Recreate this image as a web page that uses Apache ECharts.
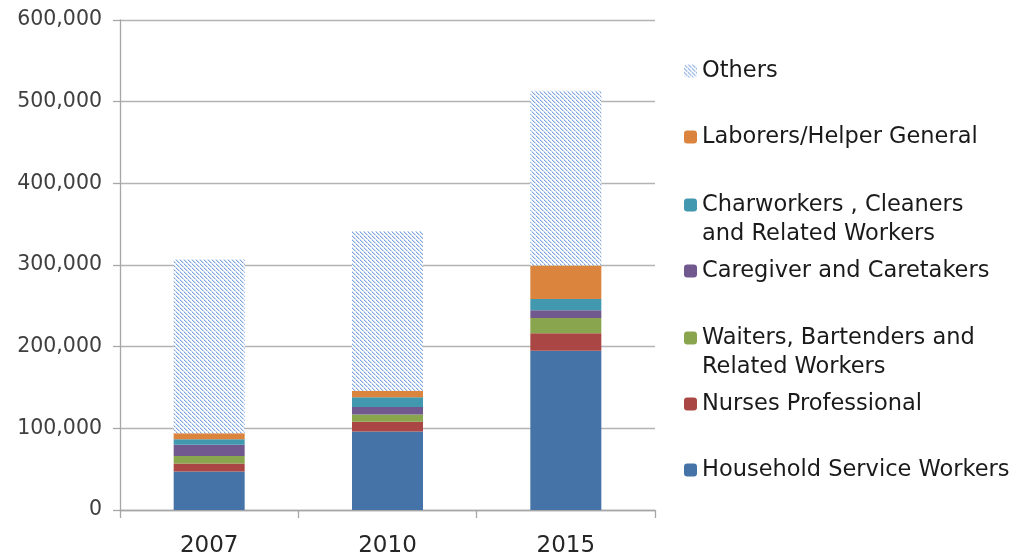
<!DOCTYPE html>
<html>
<head>
<meta charset="utf-8">
<script src="https://cdn.jsdelivr.net/npm/echarts@6/dist/echarts.min.js"></script>
<style>html,body{margin:0;padding:0;background:#fff;}#c{width:1017px;height:558px;}</style>
</head>
<body>
<div id="c"></div>
<script>
const categories = ['2007', '2010', '2015'];
const household = [47000, 96000, 195000];
const nurses = [10000, 12000, 21500];
const waiters = [9000, 9000, 18500];
const caregiver = [14000, 9000, 9500];
const charworkers = [6500, 12000, 14000];
const laborers = [7500, 8000, 41000];
const others = [213000, 195500, 214000];
const yTicks = [0, 100000, 200000, 300000, 400000, 500000, 600000];

const names = {
  hsw: 'Household Service Workers',
  nur: 'Nurses Professional',
  wai: 'Waiters, Bartenders and\nRelated Workers',
  car: 'Caregiver and Caretakers',
  cha: 'Charworkers , Cleaners\nand Related Workers',
  lab: 'Laborers/Helper General',
  oth: 'Others'
};

// dotted diagonal hatch for "Others"
const pc = document.createElement('canvas');
pc.width = 8; pc.height = 8;
const g = pc.getContext('2d');
g.fillStyle = '#ffffff';
g.fillRect(0, 0, 8, 8);
for (let i = 0; i < 8; i++) {
  for (let k = 0; k < 8; k += 4) {
    const x = (i + k) % 8;
    g.fillStyle = (i % 4 === 3) ? '#c4d6ef' : '#7ea5dc';
    g.fillRect(x, i, 1, 1);
    g.fillStyle = '#cfdef3';
    g.fillRect((x + 1) % 8, i, 1, 1);
  }
}
const hatch = { image: pc, repeat: 'repeat' };

const FONT = 'DejaVu Sans';
const chart = echarts.init(document.getElementById('c'), null, { renderer: 'canvas' });

function bar(name, data, color) {
  return { name, type: 'bar', stack: 'all', data, barWidth: 71, itemStyle: { color }, emphasis: { disabled: true } };
}

function leg(name, center, multi) {
  return {
    data: [name], left: 684, top: center - (multi ? 43.5 : 14.5), orient: 'vertical',
    itemWidth: 13, itemHeight: 13, itemGap: 0, padding: 0, selectedMode: false,
    formatter: n => multi ? '\n' + n : n,
    textStyle: { fontFamily: FONT, fontSize: 22.5, color: '#1a1a1a', lineHeight: 29 }
  };
}

chart.setOption({
  animation: false,
  grid: { left: 120, right: 362, top: 20, bottom: 48 },
  xAxis: {
    type: 'category', data: categories,
    axisLine: { lineStyle: { color: '#a6a6a6', width: 1.3 } },
    axisTick: { show: true, length: 8, lineStyle: { color: '#a6a6a6', width: 1.3 } },
    axisLabel: { fontFamily: FONT, fontSize: 23, color: '#262626', margin: 25 }
  },
  yAxis: {
    type: 'value', min: 0, max: 600000, interval: 100000,
    axisLine: { show: true, lineStyle: { color: '#a6a6a6', width: 1.3 } },
    axisTick: { show: true, length: 7, lineStyle: { color: '#a6a6a6', width: 1.3 } },
    splitLine: { lineStyle: { color: '#b3b3b3', width: 1.3 } },
    axisLabel: { fontFamily: FONT, fontSize: 20.5, color: '#404040', margin: 18,
      formatter: v => yTicks.includes(v) ? v.toLocaleString('en-US') : '' }
  },
  legend: [
    leg(names.oth, 71, false),
    leg(names.lab, 137, false),
    leg(names.cha, 205, true),
    leg(names.car, 271, false),
    leg(names.wai, 338, true),
    leg(names.nur, 404, false),
    leg(names.hsw, 470, false)
  ],
  series: [
    bar(names.hsw, household, '#4572a7'),
    bar(names.nur, nurses, '#aa4643'),
    bar(names.wai, waiters, '#89a54e'),
    bar(names.car, caregiver, '#71588f'),
    bar(names.cha, charworkers, '#4198af'),
    bar(names.lab, laborers, '#db843d'),
    bar(names.oth, others, hatch)
  ]
});
</script>
</body>
</html>
